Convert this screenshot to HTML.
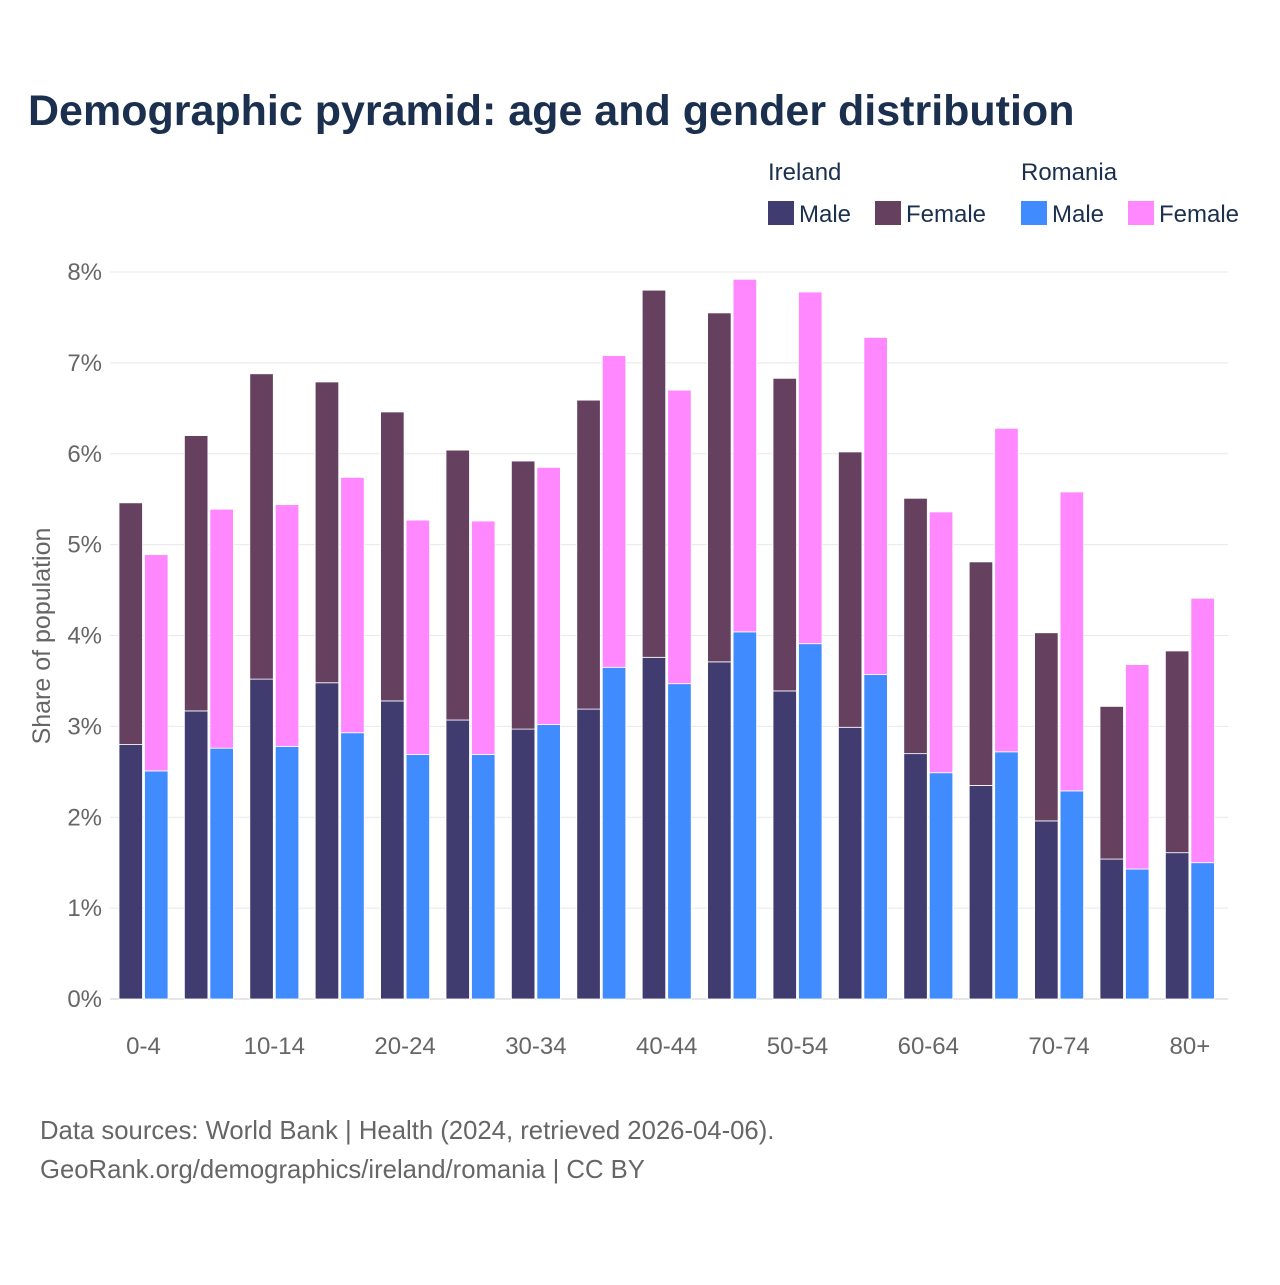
<!DOCTYPE html>
<html><head><meta charset="utf-8"><style>
body{margin:0;background:#fff;font-family:"Liberation Sans",sans-serif}
svg text{font-family:"Liberation Sans",sans-serif}
</style></head><body>
<svg id="chart" width="1280" height="1280" xmlns="http://www.w3.org/2000/svg">
<text x="28" y="125" font-size="43" font-weight="bold" fill="#1b2f4e">Demographic pyramid: age and gender distribution</text>
<g font-size="24" fill="#1b2f4e">
<text x="768" y="180" fill="#1b2f4e">Ireland</text>
<text x="1021" y="180" fill="#1b2f4e">Romania</text>
<rect x="768" y="201" width="26" height="24" fill="#403c70"/>
<text x="799" y="222" fill="#1b2f4e">Male</text>
<rect x="875" y="201" width="26" height="24" fill="#66405f"/>
<text x="906" y="222" fill="#1b2f4e">Female</text>
<rect x="1021" y="201" width="26" height="24" fill="#408cff"/>
<text x="1052" y="222" fill="#1b2f4e">Male</text>
<rect x="1128" y="201" width="26" height="24" fill="#ff88ff"/>
<text x="1159" y="222" fill="#1b2f4e">Female</text>
</g>
<text transform="translate(50,636) rotate(-90)" text-anchor="middle" font-size="25" fill="#666">Share of population</text>
<g id="grid"></g><g id="bars"></g><g id="labels"></g>
<text x="40" y="1139" font-size="25.7" fill="#666">Data sources: World Bank | Health (2024, retrieved 2026-04-06).</text>
<text x="40" y="1178" font-size="25.7" fill="#666">GeoRank.org/demographics/ireland/romania | CC BY</text>
</svg>
<script>
const categories=["0-4","5-9","10-14","15-19","20-24","25-29","30-34","35-39","40-44","45-49","50-54","55-59","60-64","65-69","70-74","75-79","80+"];
const irelandMale=[2.80,3.17,3.52,3.48,3.28,3.07,2.97,3.19,3.76,3.71,3.39,2.99,2.70,2.35,1.96,1.54,1.61];
const irelandFemale=[2.66,3.03,3.36,3.31,3.18,2.97,2.95,3.40,4.04,3.84,3.44,3.03,2.81,2.46,2.07,1.68,2.22];
const romaniaMale=[2.51,2.76,2.78,2.93,2.69,2.69,3.02,3.65,3.47,4.04,3.91,3.57,2.49,2.72,2.29,1.43,1.50];
const romaniaFemale=[2.38,2.63,2.66,2.81,2.58,2.57,2.83,3.43,3.23,3.88,3.87,3.71,2.87,3.56,3.29,2.25,2.91];
const yTicks=[0,1,2,3,4,5,6,7,8];
const NS="http://www.w3.org/2000/svg";
const y0=999,pxPer=90.875,left=110,right=1228,step=65.4,x0=143.5;
const yScale=v=>y0-v*pxPer;
const xCenter=i=>x0+i*step;
function mk(t,a,p){const e=document.createElementNS(NS,t);for(const k in a)e.setAttribute(k,a[k]);p.appendChild(e);return e;}
const grid=document.getElementById('grid'),bars=document.getElementById('bars'),labels=document.getElementById('labels');
yTicks.forEach(t=>{
 const l=mk('line',{x1:left,x2:right,y1:yScale(t),y2:yScale(t),stroke:t===0?'#ccc':'#e8e8e8','stroke-width':1},grid);
 
 
 const tx=mk('text',{x:102,y:yScale(t)+8,'text-anchor':'end','font-size':24,fill:'#666'},grid);
 tx.textContent=t+'%';
 
 
});
function bar(x,lo,hi,color,name){
 const r=mk('rect',{x:x,y:yScale(hi),width:23.5,height:yScale(lo)-yScale(hi),fill:color,stroke:'#fff','stroke-width':0.8},bars);
 
 
}
categories.forEach((c,i)=>{
 const cx=xCenter(i);
 bar(cx-24.5,0,irelandMale[i],'#403c70','bar-ireland-male');
 bar(cx-24.5,irelandMale[i],irelandMale[i]+irelandFemale[i],'#66405f','bar-ireland-female');
 bar(cx+1,0,romaniaMale[i],'#408cff','bar-romania-male');
 bar(cx+1,romaniaMale[i],romaniaMale[i]+romaniaFemale[i],'#ff88ff','bar-romania-female');
 if(i%2===0){
  const t=mk('text',{x:cx,y:1054,'text-anchor':'middle','font-size':24,fill:'#666'},labels);
  t.textContent=c;
  
  
 }
});
</script>
</body></html>
